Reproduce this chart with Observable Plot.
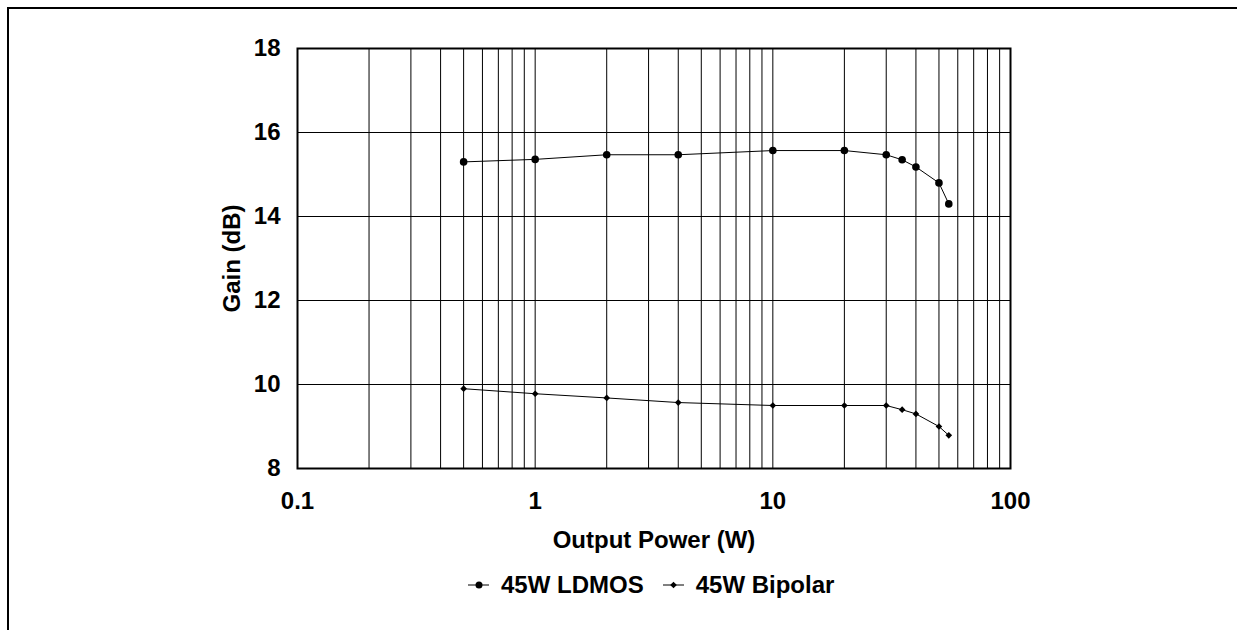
<!DOCTYPE html>
<html><head><meta charset="utf-8">
<script src="https://cdn.jsdelivr.net/npm/d3@7"></script>
<script src="https://cdn.jsdelivr.net/npm/@observablehq/plot@0.6"></script>
<style>
html,body{margin:0;padding:0;background:#fff;width:1237px;height:630px;overflow:hidden;}
#wrap{position:relative;width:1237px;height:630px;font-family:"Liberation Sans",Arial,sans-serif;font-weight:bold;color:#000;}
#border{position:absolute;left:7px;top:7px;width:1400px;height:800px;border-left:2px solid #000;border-top:2px solid #000;pointer-events:none;}
#legend{position:relative;height:50px;display:flex;align-items:center;padding-left:468px;font-size:24px;}
.item{display:flex;align-items:center;}
.item svg{display:block;margin-right:12px;}
.item + .item{margin-left:19px;}
</style>
</head><body>
<div id="wrap">
<div id="chart"></div>
<div id="legend"></div>
<div id="border"></div>
</div>
<script>
// Data
const power = [0.5, 1, 2, 4, 10, 20, 30, 35, 40, 50, 55];
const ldmosGain = [15.3, 15.36, 15.47, 15.47, 15.57, 15.57, 15.47, 15.35, 15.18, 14.8, 14.3];
const bipolarGain = [9.9, 9.78, 9.68, 9.57, 9.5, 9.5, 9.5, 9.4, 9.3, 9.0, 8.79];
const seriesNames = ["45W LDMOS", "45W Bipolar"];

// Axis ticks and grid
const xTicks = [0.1, 1, 10, 100];
const xTickLabels = ["0.1", "1", "10", "100"];
const xGrid = [0.2, 0.3, 0.4, 0.5, 0.6, 0.7, 0.8, 0.9, 1, 2, 3, 4, 5, 6, 7, 8, 9, 10, 20, 30, 40, 50, 60, 70, 80, 90];
const yTicks = [8, 10, 12, 14, 16, 18];
const yGrid = [10, 12, 14, 16];
const xTitle = "Output Power (W)";
const yTitle = "Gain (dB)";

const ldmos = power.map((p, i) => ({p, g: ldmosGain[i]}));
const bipolar = power.map((p, i) => ({p, g: bipolarGain[i]}));

const font = '"Liberation Sans", Arial, sans-serif';
const fs = 24;

const chart = Plot.plot({
  width: 1237,
  height: 560,
  marginLeft: 297,
  marginRight: 227,
  marginTop: 48,
  marginBottom: 92,
  style: {fontFamily: font, fontWeight: "bold", fontSize: fs + "px", color: "#000", background: "#fff", overflow: "visible"},
  x: {type: "log", domain: [0.1, 100]},
  y: {domain: [8, 18]},
  marks: [
    Plot.ruleX(xGrid, {stroke: "#000", strokeWidth: 1}),
    Plot.ruleY(yGrid, {stroke: "#000", strokeWidth: 1}),
    Plot.frame({stroke: "#000", strokeWidth: 2}),
    Plot.axisX(xTicks, {tickSize: 0, tickPadding: 23, tickFormat: d => xTickLabels[xTicks.indexOf(d)], fontSize: fs, fontWeight: "bold", label: null}),
    Plot.axisY(yTicks, {tickSize: 0, tickPadding: 17, fontSize: fs, fontWeight: "bold", label: null}),
    Plot.text([xTitle], {text: d => d, frameAnchor: "bottom", lineAnchor: "middle", textAnchor: "middle", dy: 72, fontSize: fs, fontWeight: "bold"}),
    Plot.text([yTitle], {text: d => d, frameAnchor: "left", lineAnchor: "middle", textAnchor: "middle", dx: -65, rotate: -90, fontSize: fs, fontWeight: "bold"}),
    Plot.line(ldmos, {x: "p", y: "g", stroke: "#000", strokeWidth: 1}),
    Plot.line(bipolar, {x: "p", y: "g", stroke: "#000", strokeWidth: 1}),
    Plot.dot(ldmos, {x: "p", y: "g", r: 3.8, fill: "#000", stroke: "none"}),
    Plot.dot(bipolar, {x: "p", y: "g", r: 3, symbol: "diamond2", fill: "#000", stroke: "none"})
  ]
});
document.getElementById("chart").appendChild(chart);

// Legend
const legend = document.getElementById("legend");
const icons = [
  '<svg width="21" height="12"><line x1="0" y1="6" x2="21" y2="6" stroke="#000" stroke-width="1"/><circle cx="11" cy="6" r="3.5" fill="#000"/></svg>',
  '<svg width="21" height="12"><line x1="0" y1="6" x2="21" y2="6" stroke="#000" stroke-width="1"/><path d="M10.5,2.7L13.8,6L10.5,9.3L7.2,6Z" fill="#000"/></svg>'
];
seriesNames.forEach((name, i) => {
  const it = document.createElement("div");
  it.className = "item";
  it.innerHTML = icons[i];
  const s = document.createElement("span");
  s.textContent = name;
  it.appendChild(s);
  legend.appendChild(it);
});
</script>
</body></html>
